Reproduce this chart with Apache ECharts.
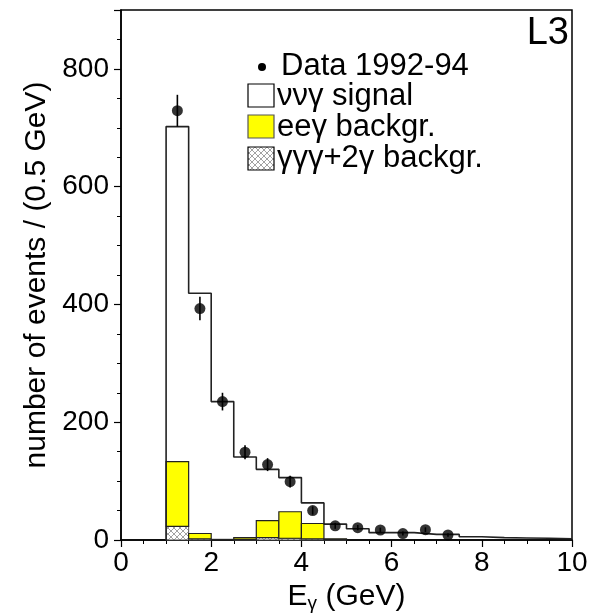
<!DOCTYPE html>
<html>
<head>
<meta charset="utf-8">
<script src="https://cdn.jsdelivr.net/npm/echarts@6/dist/echarts.min.js"></script>
<style>
  html, body { margin: 0; padding: 0; background: #fff; }
  #chart { width: 600px; height: 613px; }
</style>
</head>
<body>
<div id="chart"></div>
<script>
// bin edges (GeV), 0.5 GeV bins from 1 to 10
const binLo = [1.0, 1.5, 2.0, 2.5, 3.0, 3.5, 4.0, 4.5, 5.0, 5.5, 6.0, 6.5, 7.0, 7.5, 8.0, 8.5, 9.0, 9.5];
const binWidth = 0.5;

// total MC (signal + backgrounds), drawn as outline
const totalMC = [702, 419, 235, 141, 120, 106, 63, 27, 19, 12.5, 12.5, 9.5, 9.5, 5.5, 4, 3.5, 3, 2];
// gamma gamma gamma + 2 gamma background (hatched)
const gggBkg = [23, 2, 0, 1, 4, 3, 2, 0.5, 0, 0, 0, 0, 0, 0, 0, 0, 0, 0];
// ee gamma background (yellow), stacked on top of the hatched one
const eegBkg = [110, 9, 1, 3, 29, 45, 26, 1.5, 0, 0, 0, 0, 0, 0, 0, 0, 0, 0];

// data points
const dataX = [1.25, 1.75, 2.25, 2.75, 3.25, 3.75, 4.25, 4.75, 5.25, 5.75, 6.25, 6.75, 7.25];
const dataY = [729, 393, 235, 149, 128, 99, 50, 24, 21, 17, 11, 17.5, 8.5];
const dataErr = [27, 20, 15, 12, 11, 10, 7, 5, 4.5, 4, 3.3, 4, 3];

const chart = echarts.init(document.getElementById('chart'));

// crosshatch pattern
const hatch = document.createElement('canvas');
hatch.width = 6; hatch.height = 6;
(function () {
  const c = hatch.getContext('2d');
  c.fillStyle = '#fff';
  c.fillRect(0, 0, 6, 6);
  c.strokeStyle = '#8a8a8a';
  c.lineWidth = 0.8;
  c.beginPath();
  c.moveTo(0, 0); c.lineTo(6, 6);
  c.moveTo(6, 0); c.lineTo(0, 6);
  c.stroke();
})();
const hatchFill = { image: hatch, repeat: 'repeat' };

// build rect data [x0, x1, y0, y1]
const hatchRects = [];
const yellowRects = [];
binLo.forEach((lo, i) => {
  const hi = lo + binWidth;
  if (gggBkg[i] > 0) hatchRects.push([lo, hi, 0, gggBkg[i]]);
  if (eegBkg[i] > 0) yellowRects.push([lo, hi, gggBkg[i], gggBkg[i] + eegBkg[i]]);
});

// step outline points
const stepPts = [[binLo[0], 0]];
binLo.forEach((lo, i) => stepPts.push([lo, totalMC[i]]));
stepPts.push([binLo[binLo.length - 1] + binWidth, totalMC[totalMC.length - 1]]);

const errData = dataX.map((x, i) => [x, dataY[i] - dataErr[i], dataY[i] + dataErr[i]]);
const pts = dataX.map((x, i) => [x, dataY[i]]);

function rectItem(fill, stroke, lw) {
  return function (params, api) {
    const a = api.coord([api.value(0), api.value(3)]);
    const b = api.coord([api.value(1), api.value(2)]);
    return {
      type: 'rect',
      shape: { x: a[0], y: a[1], width: b[0] - a[0], height: b[1] - a[1] },
      style: { fill: fill, stroke: stroke, lineWidth: lw }
    };
  };
}

const font = 'Liberation Sans, Arial, sans-serif';

const option = {
  backgroundColor: '#fff',
  animation: false,
  grid: {
    left: 121, right: 28, top: 10, bottom: 73,
    outerBoundsMode: 'none', containLabel: false,
    show: true, borderColor: '#000', borderWidth: 1.5, backgroundColor: 'transparent'
  },
  xAxis: {
    type: 'value', min: 0, max: 10, interval: 2,
    axisLine: { show: true, lineStyle: { color: '#000', width: 1.5 } },
    axisTick: { show: true, inside: false, length: 7, lineStyle: { color: '#000', width: 1.2 } },
    minorTick: { show: true, splitNumber: 4, length: 4, lineStyle: { color: '#000', width: 1 } },
    splitLine: { show: false },
    axisLabel: { color: '#000', fontSize: 28, fontFamily: font, margin: 9 },
    name: 'E{sub|γ} (GeV)',
    nameLocation: 'middle',
    nameGap: 34,
    nameTextStyle: {
      color: '#000', fontSize: 30, fontFamily: font,
      rich: { sub: { fontSize: 19, verticalAlign: 'bottom', padding: [14, 0, 0, 0], fontFamily: font, color: '#000' } }
    }
  },
  yAxis: {
    type: 'value', min: 0, max: 900, interval: 200,
    axisLine: { show: true, lineStyle: { color: '#000', width: 1.5 } },
    axisTick: { show: true, inside: false, length: 7, lineStyle: { color: '#000', width: 1.2 } },
    minorTick: { show: true, splitNumber: 4, length: 4, lineStyle: { color: '#000', width: 1 } },
    splitLine: { show: false },
    axisLabel: {
      color: '#000', fontSize: 28, fontFamily: font, margin: 12,
      formatter: v => (v > 800 ? '' : v)
    },
    name: 'number of events / (0.5 GeV)',
    nameLocation: 'middle',
    nameGap: 60,
    nameTextStyle: { color: '#000', fontSize: 30, fontFamily: font }
  },
  series: [
    {
      type: 'custom', name: 'ggg', z: 2,
      renderItem: rectItem(hatchFill, '#555', 1),
      encode: { x: [0, 1], y: [2, 3] },
      data: hatchRects
    },
    {
      type: 'custom', name: 'eeg', z: 3,
      renderItem: rectItem('#ffff00', '#222', 1.2),
      encode: { x: [0, 1], y: [2, 3] },
      data: yellowRects
    },
    {
      type: 'line', name: 'total', z: 4,
      step: 'end', showSymbol: false, symbol: 'none',
      lineStyle: { color: '#222', width: 1.6 },
      data: stepPts
    },
    {
      type: 'custom', name: 'err', z: 5,
      renderItem: function (params, api) {
        const lo = api.coord([api.value(0), api.value(1)]);
        const hi = api.coord([api.value(0), api.value(2)]);
        return {
          type: 'line',
          shape: { x1: lo[0], y1: lo[1], x2: hi[0], y2: hi[1] },
          style: { stroke: '#000', lineWidth: 1.6 }
        };
      },
      encode: { x: 0, y: [1, 2] },
      data: errData
    },
    {
      type: 'scatter', name: 'Data 1992-94', z: 6,
      symbol: 'circle', symbolSize: 11,
      itemStyle: { color: '#000' },
      data: pts
    }
  ],
  graphic: [
    { type: 'text', right: 31, top: 15, style: { text: 'L3', font: '38px ' + font, fill: '#000' } },
    { type: 'circle', shape: { cx: 262, cy: 67, r: 4 }, style: { fill: '#000' } },
    { type: 'text', left: 281, top: 51, style: { text: 'Data 1992-94', font: '31px ' + font, fill: '#000' } },
    { type: 'rect', shape: { x: 248, y: 84, width: 26, height: 23 }, style: { fill: '#fff', stroke: '#000', lineWidth: 1.2 } },
    { type: 'text', left: 277, top: 81, style: { text: 'ννγ signal', font: '31px ' + font, fill: '#000' } },
    { type: 'rect', shape: { x: 248, y: 115, width: 26, height: 23 }, style: { fill: '#ffff00', stroke: '#555', lineWidth: 1.2 } },
    { type: 'text', left: 277, top: 112, style: { text: 'eeγ backgr.', font: '31px ' + font, fill: '#000' } },
    { type: 'rect', shape: { x: 248, y: 147, width: 26, height: 23 }, style: { fill: hatchFill, stroke: '#000', lineWidth: 1.2 } },
    { type: 'text', left: 277, top: 143, style: { text: 'γγγ+2γ backgr.', font: '31px ' + font, fill: '#000' } }
  ]
};

chart.setOption(option);
</script>
</body>
</html>
